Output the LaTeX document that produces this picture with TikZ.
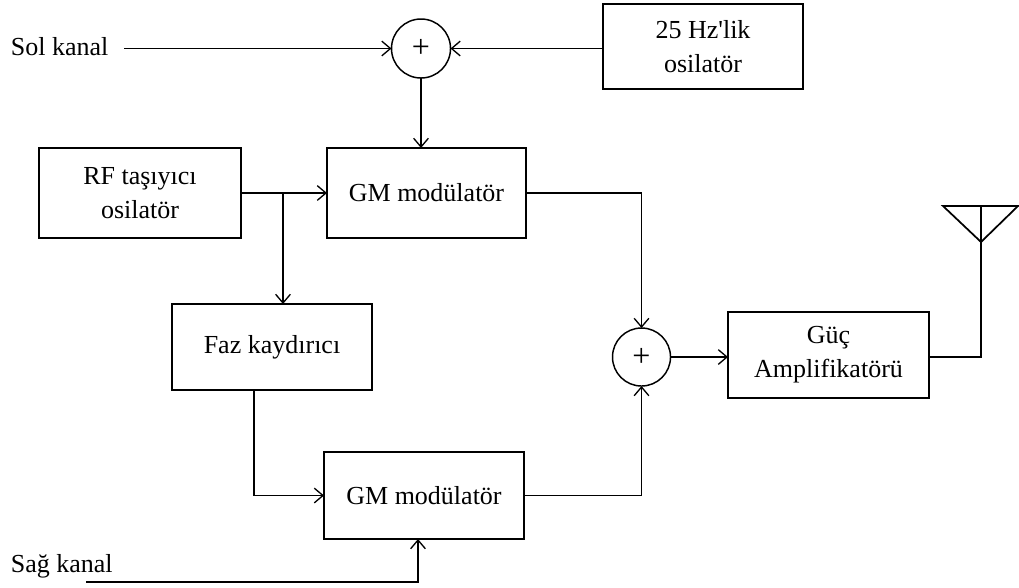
\documentclass[tikz,border=0pt]{standalone}
\usepackage{fontspec}
\setmainfont{Liberation Serif}
\usetikzlibrary{arrows.meta}
\begin{document}
\begin{tikzpicture}[x=0.75pt,y=-0.75pt,
  line width=1.3pt,
  every node/.style={font=\fontsize{19.5}{25.5}\selectfont},
  blk/.style={draw,rectangle,inner sep=0pt,outer sep=0pt,align=center},
  sumnode/.style={draw,circle,inner sep=0pt,outer sep=0pt,line width=1.1pt,font=\fontsize{24}{26}\selectfont},
  arr/.style={-{Straight Barb[length=6.5pt,width=11pt,line width=1pt]}},
  lbl/.style={anchor=west,inner sep=0pt}]
\useasboundingbox (0,0) rectangle (1019,587);
% blocks
\node[blk,minimum width=150pt,minimum height=63.75pt] (osc) at (703,46.5) {25 Hz\textquotesingle lik\\osilatör};
\node[blk,minimum width=151.5pt,minimum height=67.5pt] (rf) at (140,193) {RF taşıyıcı\\osilatör};
\node[blk,minimum width=149.25pt,minimum height=67.5pt] (gm1) at (426.5,193) {GM modülatör};
\node[blk,minimum width=150pt,minimum height=64.5pt] (faz) at (272,347) {Faz kaydırıcı};
\node[blk,minimum width=150pt,minimum height=65.25pt] (gm2) at (424,495.5) {GM modülatör};
\node[blk,minimum width=150.75pt,minimum height=64.5pt] (guc) at (828.5,355) {Güç\\Amplifikatörü};
\node[sumnode,minimum size=44.25pt] (sum1) at (421,48.5) {+};
\node[sumnode,minimum size=43.5pt] (sum2) at (641.5,357) {+};
% labels
\node[lbl] (sol) at (10,47) {Sol kanal};
\node[lbl] (sag) at (10,566) {Sağ kanal};
% coordinates
\coordinate (solstart) at (124,48.5);
\coordinate (sagstart) at (86,582);
\coordinate (sagturn) at (418,582);
\coordinate (br) at (283,193);
\coordinate (fx) at (254,0);
\coordinate (apex) at (981,242);
\coordinate (antl) at (943,206);
\coordinate (antr) at (1018,206);
\coordinate (antm) at (981,206);
% connectors
\draw[arr] (solstart) -- (sum1.west);
\draw[arr] (osc.west |- sum1.east) -- (sum1.east);
\draw[arr] (sum1.south) -- (sum1.south |- gm1.north);
\draw[arr] (rf.east) -- (gm1.west);
\draw[arr] (br) -- (br |- faz.north);
\draw[arr] (faz.south -| fx) |- (gm2.west);
\draw[arr] (sagstart) -- (sagturn) -- (sagturn |- gm2.south);
\draw[arr] (gm1.east) -| (sum2.north);
\draw[arr] (gm2.east) -| (sum2.south);
\draw[arr] (sum2.east) -- (sum2.east -| guc.west);
\draw (guc.east |- sum2.east) -| (apex);
% antenna
\draw[line join=miter] (antl) -- (antr) -- (apex) -- cycle;
\draw (apex) -- (antm);
\end{tikzpicture}
\end{document}
